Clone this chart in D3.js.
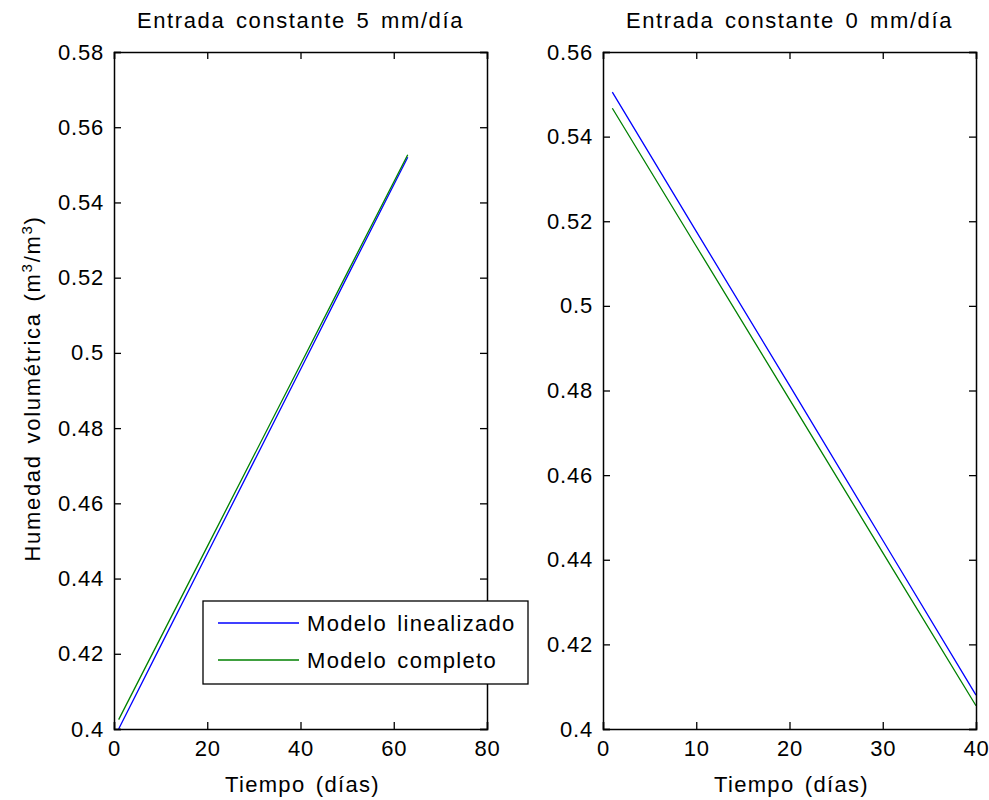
<!DOCTYPE html>
<html>
<head>
<meta charset="utf-8">
<script src="https://cdn.jsdelivr.net/npm/d3@7"></script>
<style>
  body { margin: 0; background: #fff; }
  text { font-family: "Liberation Sans", Arial, sans-serif; fill: #000; }
</style>
</head>
<body>
<div class="chart"></div>
<script>
// left panel: constant input 5 mm/day
const daysA = [1, 10, 20, 30, 40, 50, 63];
const linA = [0.400, 0.4221, 0.4466, 0.4711, 0.4956, 0.5202, 0.5520];
const fullA = [0.4025, 0.4243, 0.4485, 0.4727, 0.4969, 0.5212, 0.5527];
const xTicksA = [0, 20, 40, 60, 80];
const yTicksA = [0.4, 0.42, 0.44, 0.46, 0.48, 0.5, 0.52, 0.54, 0.56, 0.58];

// right panel: constant input 0 mm/day
const daysB = [1, 10, 20, 30, 40];
const linB = [0.5505, 0.5176, 0.4812, 0.4446, 0.4080];
const fullB = [0.5467, 0.5141, 0.4779, 0.4417, 0.4055];
const xTicksB = [0, 10, 20, 30, 40];
const yTicksB = [0.4, 0.42, 0.44, 0.46, 0.48, 0.5, 0.52, 0.54, 0.56];

const seriesNames = ["Modelo linealizado", "Modelo completo"];
const seriesColors = ["#0000ff", "#008000"];

const W = 989, H = 800;
const plotTop = 52, plotBottom = 729;
const fontSize = 22;

const svg = d3.select(".chart").append("svg")
  .attr("width", W)
  .attr("height", H);

// matlab-ish wide text
function styleText(sel, spacing) {
  return sel.style("font-size", fontSize + "px")
    .style("letter-spacing", (spacing == null ? 1.3 : spacing) + "px")
    .style("word-spacing", "3px");
}

function panel(opts) {
  const x = d3.scaleLinear().domain(opts.xDomain).range([opts.left, opts.right]);
  const y = d3.scaleLinear().domain(opts.yDomain).range([plotBottom, plotTop]);
  const g = svg.append("g");

  const line = d3.line()
    .x(d => x(d[0]))
    .y(d => y(d[1]));

  opts.series.forEach((s, i) => {
    g.append("path")
      .datum(opts.days.map((d, j) => [d, s[j]]))
      .attr("fill", "none")
      .attr("stroke", seriesColors[i])
      .attr("stroke-width", 1.3)
      .attr("d", line);
  });

  // ticks inside, mirrored on top and right
  const tick = 7;
  g.append("g")
    .attr("transform", "translate(0," + plotBottom + ")")
    .call(d3.axisBottom(x).tickValues(opts.xTicks).tickSize(-tick).tickPadding(11).tickFormat(d3.format("d")));
  g.append("g")
    .attr("transform", "translate(0," + plotTop + ")")
    .call(d3.axisTop(x).tickValues(opts.xTicks).tickSize(-tick).tickFormat(""));
  g.append("g")
    .attr("transform", "translate(" + opts.left + ",0)")
    .call(d3.axisLeft(y).tickValues(opts.yTicks).tickSize(-tick).tickPadding(10).tickFormat(d => String(+d.toFixed(2))));
  g.append("g")
    .attr("transform", "translate(" + opts.right + ",0)")
    .call(d3.axisRight(y).tickValues(opts.yTicks).tickSize(-tick).tickFormat(""));

  g.selectAll(".domain").attr("stroke", "#000").attr("stroke-width", 1.5);
  g.selectAll(".tick line").attr("stroke", "#000").attr("stroke-width", 1.3);
  styleText(g.selectAll(".tick text"), 0.8)
    .style("font-family", "Liberation Sans, Arial, sans-serif")
    .attr("fill", "#000");

  styleText(g.append("text"), 1.6)
    .attr("x", (opts.left + opts.right) / 2)
    .attr("y", 28)
    .attr("text-anchor", "middle")
    .text(opts.title);

  styleText(g.append("text"))
    .attr("x", (opts.left + opts.right) / 2 + 2)
    .attr("y", 792)
    .attr("text-anchor", "middle")
    .text("Tiempo (días)");
}

panel({
  left: 114, right: 487,
  xDomain: [0, 80], yDomain: [0.4, 0.58],
  xTicks: xTicksA, yTicks: yTicksA,
  days: daysA, series: [linA, fullA],
  title: "Entrada constante 5 mm/día"
});

panel({
  left: 603, right: 976,
  xDomain: [0, 40], yDomain: [0.4, 0.56],
  xTicks: xTicksB, yTicks: yTicksB,
  days: daysB, series: [linB, fullB],
  title: "Entrada constante 0 mm/día"
});

// y label with superscripts
const yl = styleText(svg.append("text"), 1.7)
  .attr("transform", "translate(40," + ((plotTop + plotBottom) / 2 - 2) + ") rotate(-90)")
  .attr("text-anchor", "middle");
yl.append("tspan").text("Humedad volumétrica (m");
yl.append("tspan").attr("dy", -8).style("font-size", "15px").text("3");
yl.append("tspan").attr("dy", 8).text("/m");
yl.append("tspan").attr("dy", -8).style("font-size", "15px").text("3");
yl.append("tspan").attr("dy", 8).text(")");

// legend
const leg = svg.append("g").attr("transform", "translate(203,601)");
leg.append("rect")
  .attr("width", 325).attr("height", 83)
  .attr("fill", "#fff").attr("stroke", "#000").attr("stroke-width", 1.3);
seriesNames.forEach((name, i) => {
  const yy = 22 + i * 37;
  leg.append("line")
    .attr("x1", 15).attr("x2", 96)
    .attr("y1", yy).attr("y2", yy)
    .attr("stroke", seriesColors[i]).attr("stroke-width", 1.3);
  styleText(leg.append("text"))
    .attr("x", 104).attr("y", yy + 8)
    .text(name);
});
</script>
</body>
</html>
